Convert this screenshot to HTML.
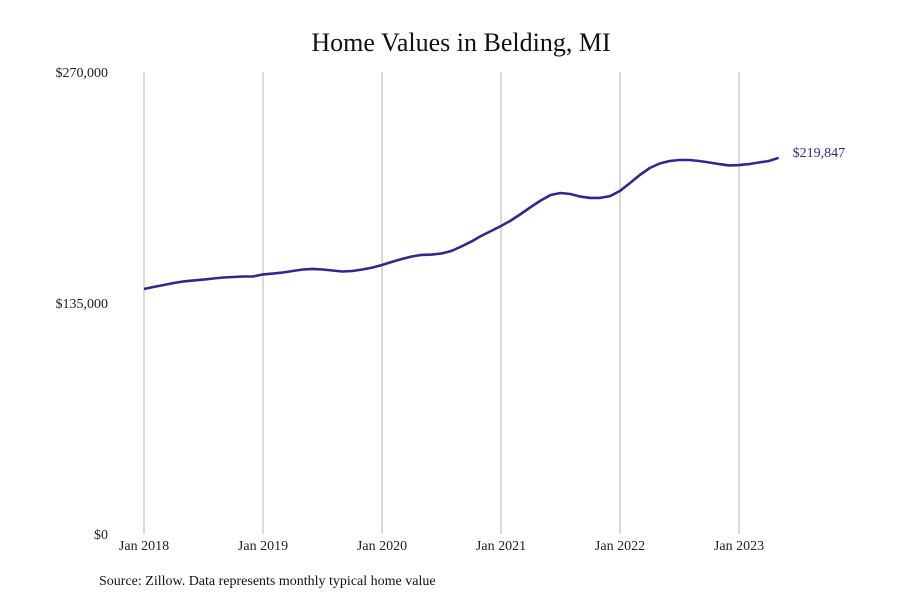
<!DOCTYPE html>
<html><head><meta charset="utf-8"><style>
body{margin:0;background:#fff;}
svg{display:block;font-family:"Liberation Serif",serif;}
</style></head><body>
<svg id="chart" width="900" height="600" viewBox="0 0 900 600">
<text x="461" y="51" text-anchor="middle" font-size="26" fill="#111">Home Values in Belding, MI</text>
<g id="grid"></g>
<g id="yaxis"></g>
<g id="xaxis"></g>
<path id="line" fill="none" stroke="#2e2a8c" stroke-width="2.6" stroke-linejoin="round"/>
<text id="endlabel" font-size="14" fill="#2e2a8c"></text>
<text x="99" y="585" font-size="14" fill="#111">Source: Zillow. Data represents monthly typical home value</text>
</svg>
<script>
const xLabels=["Jan 2018","Jan 2019","Jan 2020","Jan 2021","Jan 2022","Jan 2023"];
const yTicks=[0,135000,270000];
const yTickLabels=["$0","$135,000","$270,000"];
const values=[143.2,144.4,145.5,146.7,147.6,148.2,148.7,149.3,149.9,150.2,150.5,150.5,
151.7,152.2,152.8,153.7,154.6,154.9,154.6,154.0,153.4,153.7,154.6,155.7,
157.2,159.0,160.7,162.2,163.1,163.3,163.9,165.4,168.0,170.9,174.2,177.1,
180.0,183.2,187.0,191.1,194.9,198.1,199.3,198.7,197.2,196.4,196.4,197.5,
200.5,205.1,209.8,213.9,216.5,218.0,218.6,218.6,218.0,217.1,216.2,215.4,
215.6,216.2,217.1,218.0,219.847];
const lastLabel="$219,847";
const NS="http://www.w3.org/2000/svg";
const x0=144,pxPerMonth=119/12,yTop=72,yBot=534,yMax=270000;
const xs=i=>x0+i*pxPerMonth;
const ys=v=>yBot-(v/yMax)*(yBot-yTop);
const grid=document.getElementById('grid'),xa=document.getElementById('xaxis'),ya=document.getElementById('yaxis');
xLabels.forEach((l,i)=>{
 const x=xs(i*12);
 const ln=document.createElementNS(NS,'line');
 
 
 ln.setAttribute('x1',x);ln.setAttribute('x2',x);ln.setAttribute('y1',yTop);ln.setAttribute('y2',yBot);
 ln.setAttribute('stroke','#b5b5b5');ln.setAttribute('stroke-width','1');
 grid.appendChild(ln);
 const t=document.createElementNS(NS,'text');
 
 
 t.setAttribute('x',x);t.setAttribute('y',550);t.setAttribute('text-anchor','middle');t.setAttribute('font-size','14');t.setAttribute('fill','#222');
 t.textContent=l;xa.appendChild(t);
});
yTicks.forEach((v,i)=>{
 const t=document.createElementNS(NS,'text');
 
 
 t.setAttribute('x',108);t.setAttribute('y',ys(v)+5);t.setAttribute('text-anchor','end');t.setAttribute('font-size','14');t.setAttribute('fill','#222');
 t.textContent=yTickLabels[i];ya.appendChild(t);
});
let d='';
values.forEach((v,i)=>{d+=(i?'L':'M')+xs(i).toFixed(1)+','+ys(v*1000).toFixed(1);});
document.getElementById('line').setAttribute('d',d);
const n=values.length-1,el=document.getElementById('endlabel');
el.setAttribute('x',xs(n)+14);el.setAttribute('y',ys(values[n]*1000)-1);el.textContent=lastLabel;
</script>
</body></html>
